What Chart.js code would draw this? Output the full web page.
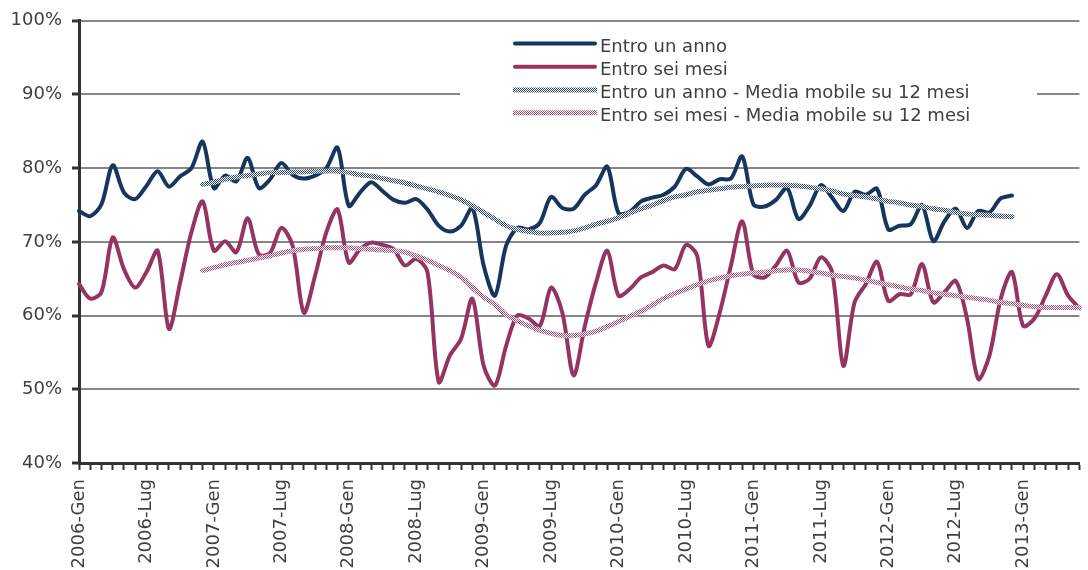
<!DOCTYPE html>
<html>
<head>
<meta charset="utf-8">
<script src="https://cdn.jsdelivr.net/npm/chart.js@4/dist/chart.umd.min.js"></script>
<style>
html,body{margin:0;padding:0;overflow:hidden;background:#fff;width:1088px;height:570px;}
#wrap{position:absolute;left:0;top:0;width:1110px;height:600px;}
</style>
</head>
<body>
<div id="wrap"><canvas id="c" width="1110" height="600"></canvas></div>
<script>
// ---------- DATA ----------
const years = [2006, 2007, 2008, 2009, 2010, 2011, 2012, 2013];
const monthNames = ['Gen','Feb','Mar','Apr','Mag','Giu','Lug','Ago','Set','Ott','Nov','Dic'];
const categories = [];
years.forEach(y => monthNames.forEach(m => categories.push(y + '-' + m)));
categories.length = 90; // 2006-Gen ... 2013-Giu

const tickLabels = ['2006-Gen','2006-Lug','2007-Gen','2007-Lug','2008-Gen','2008-Lug','2009-Gen',
  '2009-Lug','2010-Gen','2010-Lug','2011-Gen','2011-Lug','2012-Gen','2012-Lug','2013-Gen'];

const seriesNames = ['Entro un anno', 'Entro sei mesi',
  'Entro un anno - Media mobile su 12 mesi', 'Entro sei mesi - Media mobile su 12 mesi'];

const entroUnAnno = [
  74.2,73.5,75.1,80.4,76.7,75.8,77.6,79.6,77.5,78.9,
  80.0,83.6,77.3,79.0,78.2,81.4,77.3,78.5,80.7,79.1,
  78.6,79.0,80.0,82.8,74.9,76.7,78.1,76.9,75.7,75.3,
  75.8,74.4,72.2,71.4,72.2,74.6,66.8,62.7,69.5,71.9,
  71.7,72.6,76.1,74.6,74.5,76.4,77.7,80.2,73.9,74.1,
  75.5,76.0,76.4,77.5,79.9,78.9,77.8,78.5,78.6,81.6,
  75.1,74.8,75.7,77.3,73.1,74.9,77.7,76.0,74.2,76.8,
  76.4,77.2,71.7,72.2,72.4,75.0,70.1,72.8,74.5,71.9,
  74.2,74.0,75.9,76.3
];

const entroSeiMesi = [
  64.3,62.3,63.2,70.6,66.3,63.8,65.9,68.8,58.2,64.5,
  71.3,75.5,68.8,70.1,68.6,73.2,68.3,68.5,71.9,69.5,
  60.4,65.4,71.3,74.4,67.2,69.0,69.9,69.6,69.0,66.8,
  67.7,65.9,51.0,54.6,56.9,62.3,53.2,50.5,55.9,60.0,
  59.6,58.6,63.8,60.4,51.9,58.6,64.5,68.8,62.7,63.6,
  65.2,65.9,66.8,66.3,69.6,68.1,55.9,60.4,66.8,72.8,
  65.6,65.2,66.8,68.8,64.5,65.0,67.9,65.9,53.2,61.8,
  64.3,67.3,62.0,62.9,62.9,67.0,61.8,63.2,64.7,59.6,
  51.4,54.6,62.3,65.9,58.6,59.6,62.7,65.6,62.7,61.0
];

const mediaUnAnno = [
  null,null,null,null,null,null,null,null,null,null,null,
  77.8,78.1,78.5,78.8,79.0,79.2,79.4,79.4,79.5,
  79.5,79.6,79.6,79.6,79.4,79.1,78.9,78.6,78.3,78.0,
  77.6,77.2,76.8,76.3,75.7,74.9,74.0,73.1,72.2,71.7,
  71.4,71.2,71.2,71.3,71.5,71.9,72.4,72.8,73.3,73.9,
  74.5,75.0,75.6,76.1,76.4,76.8,77.0,77.2,77.4,77.5,
  77.6,77.7,77.7,77.7,77.6,77.4,77.2,76.9,76.5,76.3,
  76.1,75.8,75.5,75.3,75.0,74.8,74.5,74.3,74.0,73.8,
  73.7,73.6,73.5,73.4
];

const mediaSeiMesi = [
  null,null,null,null,null,null,null,null,null,null,null,
  66.1,66.5,66.9,67.2,67.5,67.8,68.1,68.5,68.8,
  69.0,69.1,69.2,69.2,69.2,69.1,69.0,68.9,68.8,68.6,
  68.1,67.5,66.8,66.1,65.2,63.8,62.5,61.5,60.1,59.3,
  58.6,58.0,57.6,57.3,57.3,57.5,57.9,58.5,59.2,59.9,
  60.6,61.4,62.3,63.0,63.6,64.2,64.7,65.1,65.4,65.6,
  65.8,65.9,66.1,66.2,66.2,66.0,65.8,65.5,65.3,65.1,
  64.8,64.5,64.2,63.9,63.6,63.4,63.1,62.9,62.7,62.5,
  62.3,62.1,61.8,61.6,61.4,61.2,61.1,61.1,61.1,61.1
];

const yTicks = [40, 50, 60, 70, 80, 90, 100];

// ---------- STYLES ----------
const NAVY = '#17365d';
const MAROON = '#953462';
const TEXT = '#404040';
const FONT = 'DejaVu Sans';

function makePattern(color) {
  const pc = document.createElement('canvas');
  pc.width = 2; pc.height = 2;
  const p = pc.getContext('2d');
  p.fillStyle = '#ffffff'; p.fillRect(0, 0, 2, 2);
  p.fillStyle = color; p.fillRect(0, 0, 1, 1); p.fillRect(1, 1, 1, 1);
  return document.getElementById('c').getContext('2d').createPattern(pc, 'repeat');
}
const navyPattern = makePattern('#2e4470');
const maroonPattern = makePattern('#a84a76');

const legendPlugin = {
  id: 'boxLegend',
  afterDraw(chart) {
    const ctx = chart.ctx;
    ctx.save();
    ctx.fillStyle = '#ffffff';
    ctx.fillRect(460, 28, 577, 100);
    const lineY = [43.5, 66.7, 90, 112.8];
    const baseY = [51.5, 74.6, 97.7, 120.8];
    const styles = [
      {c: NAVY, w: 4, cap: 'round'},
      {c: MAROON, w: 4, cap: 'round'},
      {c: navyPattern, w: 5, cap: 'butt'},
      {c: maroonPattern, w: 5, cap: 'butt'}
    ];
    seriesNames.forEach((name, k) => {
      const s = styles[k];
      ctx.beginPath();
      ctx.strokeStyle = s.c;
      ctx.lineWidth = s.w;
      ctx.lineCap = s.cap;
      const x0 = s.cap === 'round' ? 515 : 513;
      const x1 = s.cap === 'round' ? 595 : 597;
      ctx.moveTo(x0, lineY[k]);
      ctx.lineTo(x1, lineY[k]);
      ctx.stroke();
      ctx.fillStyle = TEXT;
      ctx.font = '18px "' + FONT + '"';
      ctx.textAlign = 'left';
      ctx.textBaseline = 'alphabetic';
      ctx.fillText(name, 600, baseY[k]);
    });
    ctx.restore();
  }
};

Chart.defaults.font.family = FONT;

new Chart(document.getElementById('c'), {
  type: 'line',
  data: {
    labels: categories,
    datasets: [
      {label: seriesNames[2], data: mediaUnAnno, borderColor: navyPattern, borderWidth: 5, tension: 0.4},
      {label: seriesNames[3], data: mediaSeiMesi, borderColor: maroonPattern, borderWidth: 5, tension: 0.4},
      {label: seriesNames[0], data: entroUnAnno, borderColor: NAVY, borderWidth: 4, tension: 0.3},
      {label: seriesNames[1], data: entroSeiMesi, borderColor: MAROON, borderWidth: 4, tension: 0.3}
    ]
  },
  options: {
    responsive: false,
    animation: false,
    layout: {padding: {left: 0, top: 19, right: 15.5, bottom: 0}},
    elements: {
      point: {radius: 0, hoverRadius: 0},
      line: {borderCapStyle: 'round', borderJoinStyle: 'round', fill: false}
    },
    plugins: {legend: {display: false}, tooltip: {enabled: false}},
    scales: {
      x: {
        type: 'category',
        offset: false,
        ticks: {
          autoSkip: false, minRotation: 90, maxRotation: 90, padding: 9,
          color: TEXT, font: {family: FONT, size: 18},
          callback: function(v, i) { const l = categories[i]; return tickLabels.includes(l) ? l : ''; }
        },
        grid: {drawOnChartArea: false, drawTicks: true, tickLength: 7, tickColor: '#333333', tickWidth: 2, color: '#333333'},
        border: {color: '#333333', width: 3},
        afterFit: s => { s.height = 137; }
      },
      y: {
        min: yTicks[0], max: yTicks[yTicks.length - 1],
        afterBuildTicks: s => { s.ticks = yTicks.map(v => ({value: v})); },
        ticks: {
          padding: 10, color: TEXT, font: {family: FONT, size: 18},
          callback: v => v + '%'
        },
        grid: {color: '#868686', lineWidth: 2, tickColor: '#333333', tickLength: 7, tickWidth: 3},
        border: {color: '#333333', width: 3},
        afterFit: s => { s.width = 79; }
      }
    }
  },
  plugins: [legendPlugin]
});
</script>
</body>
</html>
